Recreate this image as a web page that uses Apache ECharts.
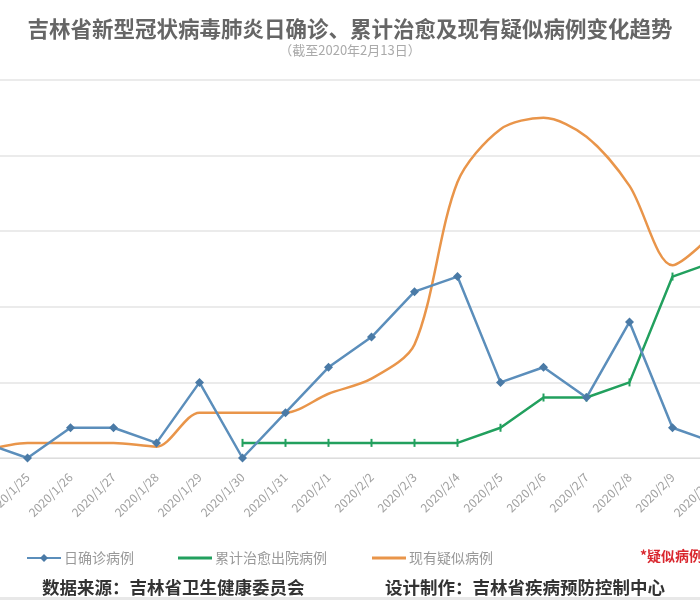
<!DOCTYPE html>
<html><head><meta charset="utf-8">
<script src="https://cdn.jsdelivr.net/npm/echarts@6/dist/echarts.min.js"></script>
<style>html,body{margin:0;padding:0;background:#fff;overflow:hidden;width:700px;height:600px}
#wrap{position:relative;width:700px;height:600px;overflow:hidden}
#c{position:absolute;left:-37px;top:0;width:774px;height:600px}</style>
</head><body><div id="wrap"><div id="c"></div></div>
<script>
const categories = ['2020/1/24','2020/1/25','2020/1/26','2020/1/27','2020/1/28','2020/1/29','2020/1/30','2020/1/31','2020/2/1','2020/2/2','2020/2/3','2020/2/4','2020/2/5','2020/2/6','2020/2/7','2020/2/8','2020/2/9','2020/2/10'];
const dailyConfirmed = [1,0,2,2,1,5,0,3,6,8,11,12,5,6,4,9,2,1];
const cumulativeCured = [null,null,null,null,null,null,1,1,1,1,1,1,2,4,4,5,12,13];
const currentSuspected = [2,4,4,4,3,12,12,12,17,21,30,73,87,90,85,72,51,60];
const legendNames = ['日确诊病例','累计治愈出院病例','现有疑似病例'];

const OFF = 37; // canvas is shifted left by this many pixels (plot is cropped at both sides)
const chart = echarts.init(document.getElementById('c'));
const font = '"Noto Sans CJK SC", "Noto Sans", sans-serif';
const legendText = {fontSize: 14, color: '#999', padding: [0, 0, 0, -2]};
chart.setOption({
  backgroundColor: '#fff',
  textStyle: {fontFamily: font},
  title: [
    {text: '吉林省新型冠状病毒肺炎日确诊、累计治愈及现有疑似病例变化趋势', left: 'center', top: 13,
     textStyle: {fontSize: 21.5, fontWeight: 'bold', color: '#666', fontFamily: font}},
    {text: '（截至2020年2月13日）', left: 'center', top: 39,
     textStyle: {fontSize: 13, fontWeight: 'normal', color: '#aaa', fontFamily: font}}
  ],
  legend: [
    {data: [legendNames[0]], left: 21 + OFF, top: 546, itemWidth: 34, itemHeight: 10, textStyle: legendText},
    {data: [{name: legendNames[1], icon: 'rect'}], left: 173 + OFF, top: 546, itemWidth: 34, itemHeight: 3, textStyle: legendText},
    {data: [{name: legendNames[2], icon: 'rect'}], left: 367 + OFF, top: 546, itemWidth: 34, itemHeight: 3, textStyle: legendText}
  ],
  graphic: [
    {type: 'text', left: 640 + OFF, top: 549, style: {text: '*疑似病例', fill: '#d9262e', font: 'bold 14px ' + font}},
    {type: 'text', left: 42 + OFF, top: 579, style: {text: '数据来源：吉林省卫生健康委员会', fill: '#333', font: 'bold 17.5px ' + font}},
    {type: 'text', left: 385 + OFF, top: 579, style: {text: '设计制作：吉林省疾病预防控制中心', fill: '#333', font: 'bold 17.5px ' + font}},
    {type: 'rect', left: 0, top: 597, shape: {width: 774, height: 3}, style: {fill: '#e8e8e8'}}
  ],
  grid: {left: 0, right: 0, top: 80, bottom: 142, containLabel: false, outerBoundsMode: 'none'},
  xAxis: {
    type: 'category', data: categories, boundaryGap: true,
    axisLine: {lineStyle: {color: '#ddd', width: 1}},
    axisTick: {show: false},
    axisLabel: {rotate: 45, fontSize: 12, color: '#a0a0a0', margin: 17, interval: 0}
  },
  yAxis: [
    {type: 'value', min: 0, max: 25, interval: 5,
     axisLabel: {show: false}, axisLine: {show: false}, axisTick: {show: false},
     splitLine: {lineStyle: {color: '#e4e4e4', width: 1.5}}},
    {type: 'value', min: 0, max: 100, interval: 20,
     axisLabel: {show: false}, axisLine: {show: false}, axisTick: {show: false},
     splitLine: {show: false}}
  ],
  series: [
    {name: legendNames[2], type: 'line', yAxisIndex: 1, data: currentSuspected, smooth: 0.3,
     symbol: 'none', lineStyle: {color: '#E9954A', width: 2.5}, itemStyle: {color: '#E9954A'}, z: 1},
    {name: legendNames[1], type: 'line', data: cumulativeCured, symbol: 'rect', symbolSize: [2, 8],
     lineStyle: {color: '#22A05E', width: 2.5}, itemStyle: {color: '#22A05E'}, z: 2},
    {name: legendNames[0], type: 'line', data: dailyConfirmed, symbol: 'diamond', symbolSize: 9,
     lineStyle: {color: '#5B8EBB', width: 2.5}, itemStyle: {color: '#4A7AA6'}, z: 3}
  ],
  animation: false
});
</script></body></html>
